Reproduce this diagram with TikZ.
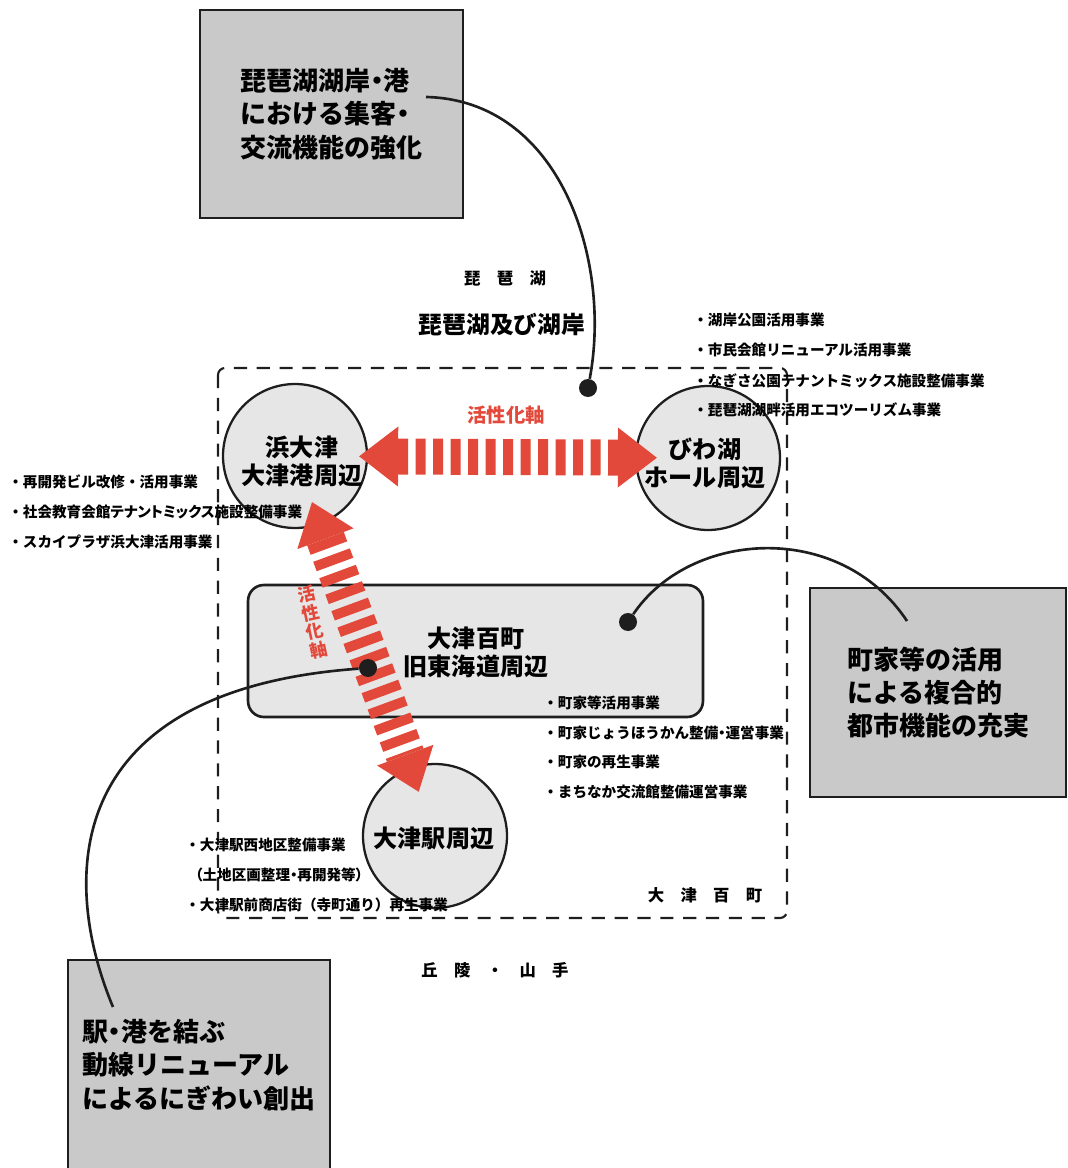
\documentclass[tikz,border=0pt]{standalone}
\usepackage{fontspec}
\setmainfont{Noto Sans CJK JP}
\usetikzlibrary{arrows.meta}
\definecolor{cBox}{HTML}{C9C9C9}
\definecolor{cZone}{HTML}{E6E6E6}
\definecolor{cRed}{HTML}{E2493A}
\definecolor{cInk}{HTML}{1E1E1E}
\newcommand{\tight}{\addfontfeature{RawFeature=+palt}}

\tikzset{
  goalbox/.style={draw=cInk, line width=1.6pt, fill=cBox, align=left, inner sep=0pt,
    font=\bfseries\fontsize{14.8}{19}\selectfont},
  zone/.style={circle, draw=cInk, line width=1.3pt, fill=cZone, minimum size=2.88cm,
    inner sep=0pt, align=center, font=\bfseries\fontsize{13.7}{16}\selectfont},
  project/.style={anchor=west, inner sep=0pt, font=\bfseries\fontsize{8.3}{10}\selectfont},
  spaced/.style={inner sep=0pt, font=\bfseries\fontsize{9.3}{11}\selectfont},
  actaxis/.style={draw=cRed, dash pattern=on 0.2cm off 0.15cm,
    {Triangle[length=0.78cm,width=1.2cm,line width=0pt]}-{Triangle[length=0.78cm,width=1.2cm,line width=0pt]}},
  lead/.style={draw=cInk, line width=1.5pt},
  knot/.style={circle, fill=cInk, minimum size=0.36cm, inner sep=0pt},
}

\begin{document}
\begin{tikzpicture}[x=0.02cm, y=-0.02cm]
  \useasboundingbox (0,0) rectangle (1067,1168);

  % aims
  \node[goalbox, minimum width=5.26cm, minimum height=4.16cm] (lake) at (331.5,114)
    {琵琶湖湖岸{\tight ・}港\\における集客{\tight ・}\\交流機能の強化};
  \node[goalbox, minimum width=5.12cm, minimum height=4.18cm] (city) at (938,692.5)
    {町家等の活用\\による複合的\\都市機能の充実};
  \node[goalbox, minimum width=5.24cm, minimum height=4.2cm] (route) at (199,1065)
    {駅{\tight ・}港を結ぶ\\動線リニューアル\\によるにぎわい創出};

  % district frame
  \draw[cInk, line width=1.2pt, dash pattern=on 7.5pt off 5.5pt, rounded corners=4pt]
    (218,368) rectangle (787,918);

  % zones
  \node[draw=cInk, line width=1.5pt, fill=cZone, rounded corners=9pt, minimum width=9.1cm,
    minimum height=2.64cm, inner sep=0pt] (machi) at (475.5,651) {};
  \node[zone] (hama) at (295,456) {};
  \node[zone] (biwa) at (708,458) {};
  \node[zone] (eki) at (435,836) {};

  % axes
  \draw[actaxis, line width=0.72cm, shorten <=-0.18cm, shorten >=-0.44cm] (hama) -- (biwa);
  \draw[actaxis, line width=0.78cm, shorten <=-0.48cm, shorten >=-0.52cm] (hama) -- (eki);
  \node[text=cRed, font=\bfseries\fontsize{11}{13}\selectfont] (axisH) at (506,415) {活性化軸};
  \node[text=cRed, rotate=12, align=center, font=\bfseries\fontsize{10}{10.8}\selectfont] (axisV)
    at (313,622) {活\\性\\化\\軸};

  % zone names
  \node[align=center, font=\bfseries\fontsize{13.7}{16}\selectfont] (hamaname) at (302,461) {浜大津\\大津港周辺};
  \node[align=center, font=\bfseries\fontsize{13.7}{16}\selectfont] (biwaname) at (705,463) {びわ湖\\ホール周辺};
  \node[font=\bfseries\fontsize{13.7}{16}\selectfont] (ekiname) at (434,838) {大津駅周辺};
  \node[align=center, font=\bfseries\fontsize{13.7}{16}\selectfont] (machiname) at (476,652) {大津百町\\旧東海道周辺};

  % leads
  \coordinate (lakeend) at (426,97);
  \coordinate (cityend) at (907,621);
  \coordinate (routeend) at (113,1007);
  \node[knot] (d1) at (588,388) {};
  \node[knot] (d2) at (628,622) {};
  \node[knot] (d3) at (368,668) {};
  \draw[lead] (lakeend) .. controls (560,100) and (612,260) .. (d1);
  \draw[lead] (d2) .. controls (690,530) and (840,520) .. (cityend);
  \draw[lead] (d3) .. controls (60,690) and (60,880) .. (routeend);

  % place names
  \node[spaced] (lakename) at (505,278) {琵　琶　湖};
  \node[font=\bfseries\fontsize{13.5}{16}\selectfont] (shore) at (502,325) {琵琶湖及び湖岸};
  \node[spaced] (hyakucho) at (705,895) {大　津　百　町};
  \node[spaced] (hills) at (495,970) {丘　陵　・　山　手};

  % projects
  \foreach \y/\t [count=\i] in {482/・再開発ビル改修・活用事業, 512/{・{\tight 社会教育会館テナントミックス施設整備事業}},
      542/・スカイプラザ浜大津活用事業}
    \node[project] (hamap\i) at (8,\y) {\t};
  \foreach \y/\t [count=\i] in {320/・湖岸公園活用事業, 350/・市民会館リニューアル活用事業,
      381/・なぎさ公園テナントミックス施設整備事業, 410/・琵琶湖湖畔活用エコツーリズム事業}
    \node[project] (biwap\i) at (693,\y) {\t};
  \foreach \y/\t [count=\i] in {703/・町家等活用事業, 733/{・町家じょうほうかん整備{\tight ・}運営事業},
      762/・町家の再生事業, 792/・まちなか交流館整備運営事業}
    \node[project] (machip\i) at (543,\y) {\t};
  \foreach \x/\y/\t [count=\i] in {185/845/・大津駅西地区整備事業, 195/875/{\tight （土地区画整理・再開発等）},
      185/905/・大津駅前商店街（寺町通り）再生事業}
    \node[project] (ekip\i) at (\x,\y) {\t};
\end{tikzpicture}
\end{document}
